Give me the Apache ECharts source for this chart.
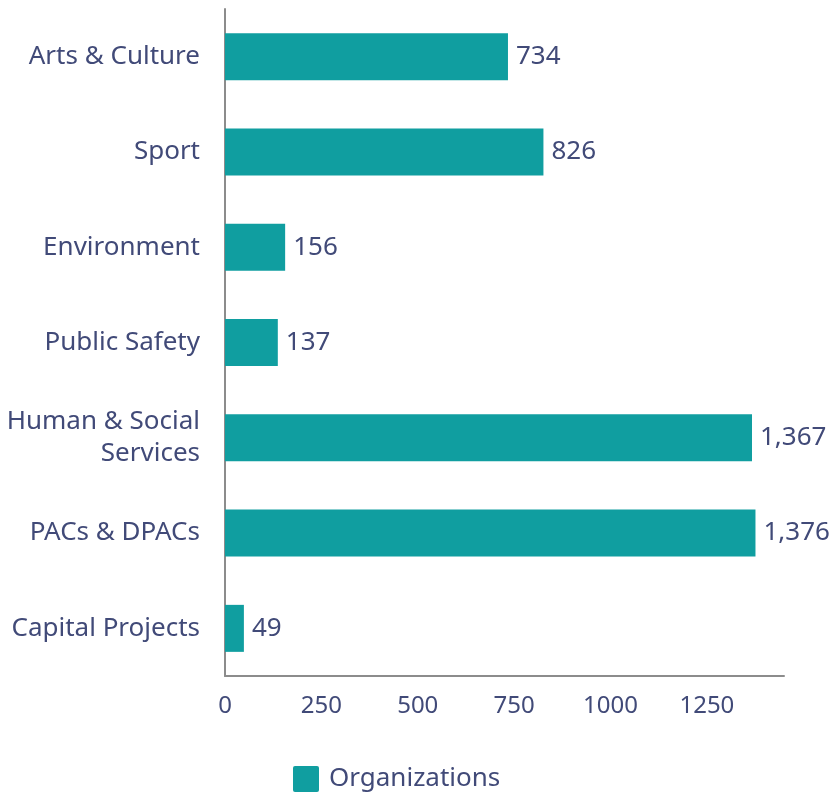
<!DOCTYPE html>
<html>
<head>
<meta charset="utf-8">
<script src="https://cdn.jsdelivr.net/npm/echarts@6/dist/echarts.min.js"></script>
<style>
  html, body { margin: 0; padding: 0; background: #fff; }
  #chart { width: 829px; height: 799px; }
</style>
</head>
<body>
<div id="chart"></div>
<script>
// categories, top to bottom
const categories = [
  'Arts & Culture',
  'Sport',
  'Environment',
  'Public Safety',
  'Human & Social\nServices',
  'PACs & DPACs',
  'Capital Projects'
];
const organizations = [734, 826, 156, 137, 1367, 1376, 49];
const seriesName = 'Organizations';

const textColor = '#414a78';
const barColor = '#109ea0';
const axisColor = '#8c8c8c';
const fontFamily = '"Noto Sans", "Open Sans", sans-serif';

const chart = echarts.init(document.getElementById('chart'));
chart.setOption({
  animation: false,
  textStyle: { fontFamily: fontFamily },
  grid: {
    left: 225,
    right: 45,
    top: 9,
    bottom: 123,
    containLabel: false
  },
  legend: {
    show: true,
    left: 293,
    top: 766,
    padding: 0,
    icon: 'path://M2,0 H24 Q26,0 26,2 V24 Q26,26 24,26 H2 Q0,26 0,24 V2 Q0,0 2,0 Z',
    itemWidth: 26,
    itemHeight: 26,
    itemGap: 10,
    textStyle: {
      color: textColor,
      fontSize: 26,
      fontFamily: fontFamily,
      padding: [0, 0, 0, 5]
    },
    data: [seriesName]
  },
  xAxis: {
    type: 'value',
    min: 0,
    max: 1450,
    interval: 250,
    axisLine: {
      show: true,
      lineStyle: { color: axisColor, width: 2 }
    },
    axisTick: { show: false },
    splitLine: { show: false },
    axisLabel: {
      color: textColor,
      fontSize: 24,
      fontFamily: fontFamily,
      margin: 18,
      showMaxLabel: false,
      formatter: function (v) {
        return String(v); // no thousands separator on the axis
      }
    }
  },
  yAxis: {
    type: 'category',
    inverse: true,
    data: categories,
    axisLine: {
      show: true,
      lineStyle: { color: axisColor, width: 2 }
    },
    axisTick: { show: false },
    splitLine: { show: false },
    axisLabel: {
      color: textColor,
      fontSize: 26,
      lineHeight: 32,
      fontFamily: fontFamily,
      margin: 25,
      align: 'right'
    }
  },
  series: [{
    name: seriesName,
    type: 'bar',
    data: organizations,
    barWidth: 47,
    itemStyle: { color: barColor },
    label: {
      show: true,
      position: 'right',
      distance: 8,
      color: textColor,
      fontSize: 26,
      fontFamily: fontFamily,
      formatter: function (p) {
        return p.value.toLocaleString('en-US');
      }
    }
  }]
});
</script>
</body>
</html>
